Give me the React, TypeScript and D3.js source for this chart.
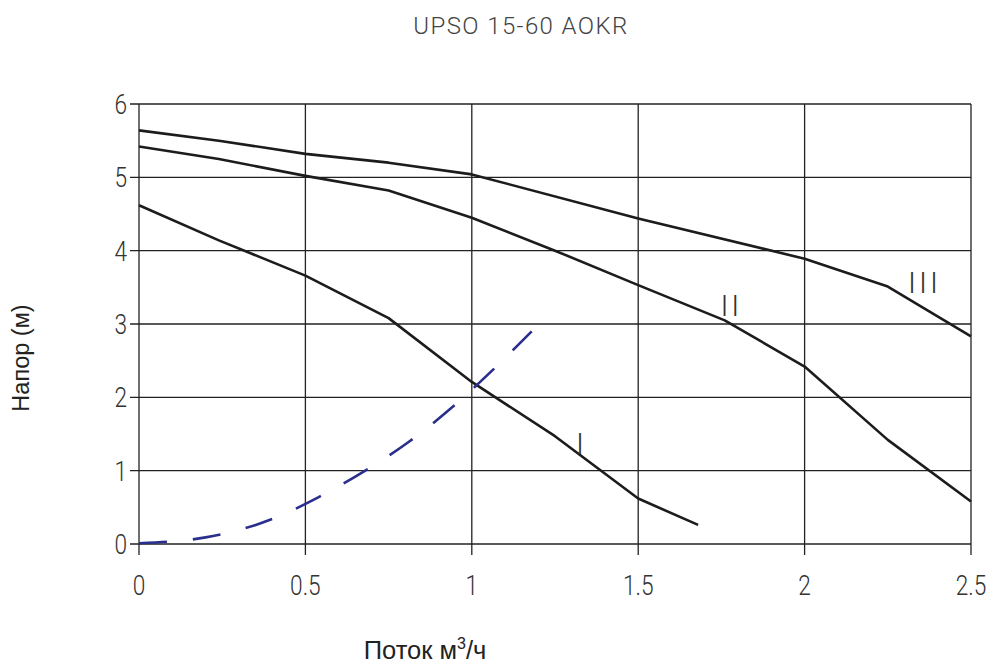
import React, { useEffect, useRef } from 'react';
import * as d3 from 'd3';

// ticks
const xTicks = [0, 0.5, 1, 1.5, 2, 2.5];
const yTicks = [0, 1, 2, 3, 4, 5, 6];

// pump curves (flow m3/h, head m)
const curveI: [number, number][] = [
    [0, 4.62], [0.24, 4.14], [0.5, 3.66], [0.75, 3.08], [1, 2.21], [1.25, 1.47], [1.5, 0.62], [1.68, 0.26]
];
const curveII: [number, number][] = [
    [0, 5.42], [0.24, 5.25], [0.5, 5.02], [0.75, 4.82], [1, 4.45], [1.25, 4.0], [1.5, 3.53], [1.76, 3.05], [2, 2.42], [2.25, 1.42], [2.5, 0.58]
];
const curveIII: [number, number][] = [
    [0, 5.64], [0.24, 5.5], [0.5, 5.32], [0.75, 5.2], [1, 5.04], [1.5, 4.44], [2, 3.89], [2.25, 3.51], [2.5, 2.83]
];
// system curve (dashed)
const systemCurve: [number, number][] = [
    [0, 0.01], [0.2, 0.09], [0.4, 0.34], [0.54, 0.64], [0.68, 1.0], [0.81, 1.39], [0.94, 1.86], [1.06, 2.36], [1.18, 2.9]
];

const curveNames = ['I', 'II', 'III'];
const curveLabelX = [1.33, 1.78, 2.36];
const curveLabelY = [1.38, 3.26, 3.57];

const title = 'UPSO 15-60 AOKR';
const yTitle = 'Напор (м)';

export default function App() {
    const ref = useRef<SVGSVGElement>(null);

    useEffect(() => {
        document.body.style.margin = '0';
        const svg = d3.select(ref.current);
        svg.selectAll('*').remove();

        const x = d3.scaleLinear().domain([0, 2.5]).range([139, 971]);
        const y = d3.scaleLinear().domain([0, 6]).range([544, 104]);
        const gridColor = '#222';
        const tickFont = 'Roboto, sans-serif';

        // vertical grid + ticks below axis
        xTicks.forEach(t => {
            svg.append('line')
                .attr('x1', x(t)).attr('x2', x(t))
                .attr('y1', y(6)).attr('y2', y(0) + 11)
                .style('stroke', gridColor)
                .style('stroke-width', 1.3);
        });

        // horizontal grid + ticks left of axis
        yTicks.forEach(t => {
            svg.append('line')
                .attr('x1', x(0) - 9).attr('x2', x(2.5))
                .attr('y1', y(t)).attr('y2', y(t))
                .style('stroke', gridColor)
                .style('stroke-width', 1.3);
        });

        // tick labels (condensed light look)
        svg.selectAll('.xlab').data(xTicks).enter().append('text')
            .attr('transform', d => 'translate(' + x(d) + ',595) scale(0.84,1)')
            .attr('text-anchor', 'middle')
            .style('font-family', tickFont)
            .style('font-weight', 300)
            .style('font-size', '27px')
            .style('fill', '#333')
            .text(d => String(d));

        svg.selectAll('.ylab').data(yTicks).enter().append('text')
            .attr('transform', d => 'translate(127,' + (y(d) + 10) + ') scale(0.84,1)')
            .attr('text-anchor', 'end')
            .style('font-family', tickFont)
            .style('font-weight', 300)
            .style('font-size', '27px')
            .style('fill', '#333')
            .text(d => String(d));

        const line = d3.line<[number, number]>()
            .x(d => x(d[0]))
            .y(d => y(d[1]));

        [curveI, curveII, curveIII].forEach(c => {
            svg.append('path')
                .attr('d', line(c))
                .attr('fill', 'none')
                .style('stroke', '#1c1c1c')
                .style('stroke-width', 2.6)
                .style('stroke-linejoin', 'round');
        });

        svg.append('path')
            .attr('d', line.curve(d3.curveMonotoneX)(systemCurve))
            .attr('fill', 'none')
            .style('stroke', '#2a2e8c')
            .style('stroke-width', 2.6)
            .style('stroke-dasharray', '28,26');

        curveNames.forEach((n, i) => {
            svg.append('text')
                .attr('x', x(curveLabelX[i])).attr('y', y(curveLabelY[i]) + 11)
                .attr('text-anchor', 'middle')
                .style('font-family', 'Roboto, sans-serif')
                .style('font-weight', 300)
                .style('font-size', '30px')
                .style('letter-spacing', '3px')
                .style('fill', '#333')
                .text(n);
        });

        svg.append('text')
            .attr('x', 521).attr('y', 34)
            .attr('text-anchor', 'middle')
            .style('font-family', 'Roboto, sans-serif')
            .style('font-weight', 300)
            .style('font-size', '24px')
            .style('letter-spacing', '1.4px')
            .style('fill', '#444')
            .text(title);

        const xt = svg.append('text')
            .attr('x', 425).attr('y', 659)
            .attr('text-anchor', 'middle')
            .style('font-family', '"Liberation Sans", Arial, sans-serif')
            .style('font-size', '25.5px')
            .style('fill', '#222');
        xt.append('tspan').text('Поток м');
        xt.append('tspan').attr('dy', -10).style('font-size', '16px').text('3');
        xt.append('tspan').attr('dy', 10).text('/ч');

        svg.append('text')
            .attr('transform', 'translate(29,358) rotate(-90)')
            .attr('text-anchor', 'middle')
            .style('font-family', '"Liberation Sans", Arial, sans-serif')
            .style('font-size', '23.5px')
            .style('fill', '#222')
            .text(yTitle);
    }, []);

    return (
        <div>
            <svg ref={ref} width={990} height={663} style={{ display: 'block', background: '#fff' }}></svg>
        </div>
    );
}
